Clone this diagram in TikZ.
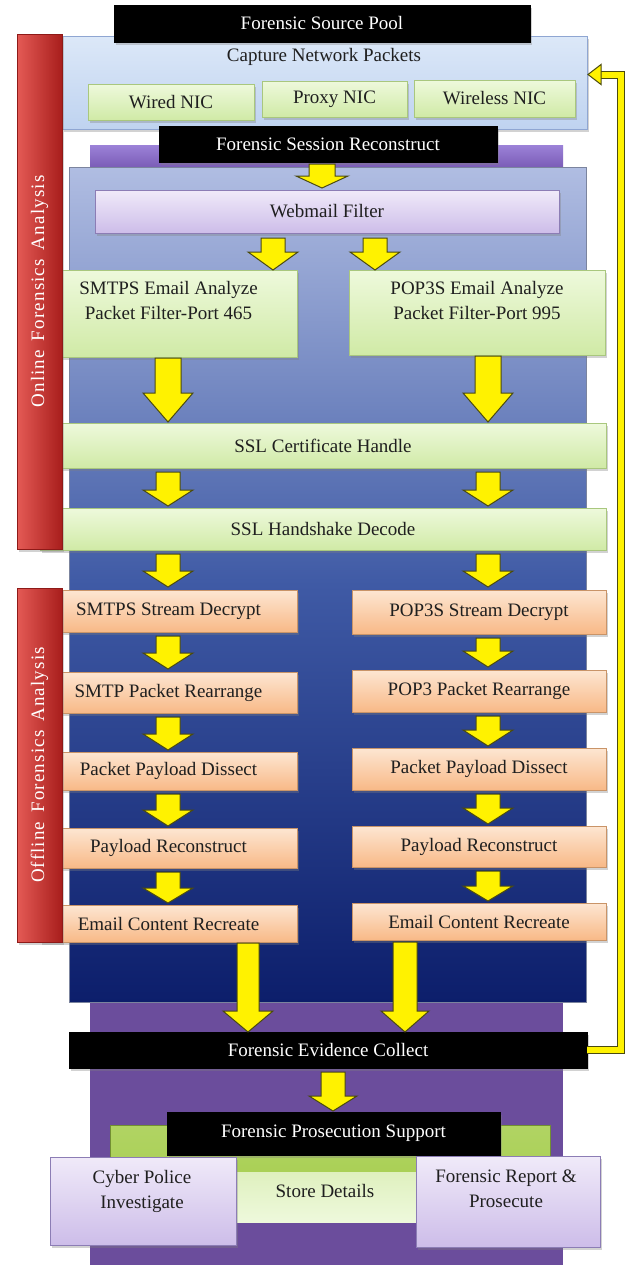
\documentclass[tikz,border=0pt]{standalone}
\usepackage{fontspec}
\setmainfont{Liberation Serif}
\newfontfamily\spacedserif[LetterSpace=6]{Liberation Serif}
\usetikzlibrary{calc,shadows}
\newcommand{\fs}{\fontsize{19}{25}\selectfont}
\definecolor{capT}{HTML}{DCE8F8}
\definecolor{capB}{HTML}{BFD3F0}
\definecolor{capD}{HTML}{8FA6D2}
\definecolor{grnT}{HTML}{EEF9DC}
\definecolor{grnB}{HTML}{D0EAA6}
\definecolor{grnD}{HTML}{A9C77E}
\definecolor{oraT}{HTML}{FDE6D2}
\definecolor{oraB}{HTML}{F8B987}
\definecolor{oraD}{HTML}{C99468}
\definecolor{lavT}{HTML}{F0EAF9}
\definecolor{lavB}{HTML}{CDBDE9}
\definecolor{lavD}{HTML}{8C7DB5}
\definecolor{redL}{HTML}{E45A55}
\definecolor{redR}{HTML}{A81E1C}
\definecolor{redD}{HTML}{8E1A18}
\definecolor{blueT}{HTML}{B0BDE2}
\definecolor{blueM}{HTML}{3F5AA5}
\definecolor{blueB}{HTML}{0C1E6B}
\definecolor{purp}{HTML}{6B4D9C}
\definecolor{purpT}{HTML}{9C82D8}
\definecolor{purpB}{HTML}{7657B2}
\definecolor{bandG}{HTML}{A3CC48}
\definecolor{arrD}{HTML}{4A4A10}
\pgfdeclareverticalshading{blackbevel}{100bp}{color(0bp)=(black); color(80bp)=(black); color(92bp)=(black!75); color(100bp)=(black!45)}
\newcommand{\blockarrow}[5]{%
  \draw[yarrow] let \p1=#1, \p2=#2 in
    (\x1-#3,\y1) -- (\x1+#3,\y1) -- (\x1+#3,\y2+#5) -- (\x1+#4,\y2+#5) --
    (\x1,\y2) -- (\x1-#4,\y2+#5) -- (\x1-#3,\y2+#5) -- cycle;}
\begin{document}
\begin{tikzpicture}[x=1pt,y=-1pt,
  base/.style={rectangle, inner sep=0pt, outer sep=0pt, font=\fs, text=black!88, align=center},
  shad/.style={drop shadow={opacity=0.35, shadow xshift=2pt, shadow yshift=-2.5pt}},
  blk/.style={base, shading=blackbevel, draw=black, text=white, shad},
  capbox/.style={base, top color=capT, bottom color=capB, draw=capD, shad},
  grn/.style={base, top color=grnT, bottom color=grnB, draw=grnD, shad},
  ora/.style={base, top color=oraT, bottom color=oraB, draw=oraD, shad},
  lav/.style={base, top color=lavT, bottom color=lavB, draw=lavD, shad},
  redbar/.style={base, left color=redL, right color=redR, draw=redD, shad},
  redtext/.style={font=\spacedserif\fs, text=white, rotate=90, inner sep=0pt},
  yarrow/.style={fill=yellow, draw=arrD, line width=1pt, line join=miter},
  txt/.style={font=\fs, text=black!88, align=center, inner sep=0pt}
]
\useasboundingbox (0,0) rectangle (628,1266);
\fill[white] (0,0) rectangle (628,1266);

% x-positions of the block arrows
\coordinate (xa) at (322,0);
\coordinate (xb) at (273,0);
\coordinate (xc) at (375,0);
\coordinate (xL) at (168,0);
\coordinate (xR) at (488,0);
\coordinate (xl2) at (248,0);
\coordinate (xr2) at (405,0);
\coordinate (xe) at (333,0);

% background panels
\node[base, fill=purp, minimum width=473pt, minimum height=1120pt] (purpleBg) at (326.5,705) {};
\fill[top color=purpT, bottom color=purpB] (90,145) rectangle (563,170);
\node[base, top color=blueT, bottom color=blueB, middle color=blueM, draw=blueT!70!black, minimum width=517pt, minimum height=835pt] (blueBg) at (327.5,584.5) {};

% source pool
\node[capbox, minimum width=525pt, minimum height=93pt] (cap) at (324.5,82.5) {};
\node[txt] (captxt) at (324,57) {Capture Network Packets};
\node[grn, minimum width=166pt, minimum height=36pt] (wired) at (171,102) {Wired NIC};
\node[grn, minimum width=145pt, minimum height=36pt] (proxy) at (334.5,99) {Proxy NIC};
\node[grn, minimum width=161pt, minimum height=37pt] (wireless) at (494.5,98.5) {Wireless NIC};
\node[blk, minimum width=416pt, minimum height=37pt] (srcpool) at (322,23.5) {Forensic Source Pool};
\node[blk, minimum width=338pt, minimum height=36pt] (sess) at (328,144) {Forensic Session Reconstruct};

% online analysis
\node[lav, minimum width=464pt, minimum height=43pt] (webmail) at (327,211.5) {Webmail Filter};
\node[grn, minimum width=257pt, minimum height=87pt] (smtpsEmail) at (168.5,313.5) {};
\node[txt, anchor=north] (smtpsTxt) at (168.5,281) {SMTPS Email Analyze\\Packet Filter-Port 465};
\node[grn, minimum width=256pt, minimum height=85pt] (pop3sEmail) at (477,312.5) {};
\node[txt, anchor=north] (pop3sTxt) at (477,281) {POP3S Email Analyze\\Packet Filter-Port 995};
\node[grn, minimum width=566pt, minimum height=45pt] (sslCert) at (323,445.5) {SSL Certificate Handle};
\node[grn, minimum width=566pt, minimum height=42pt] (sslHand) at (323,529) {SSL Handshake Decode};

% offline analysis
\node[ora, minimum width=257pt, minimum height=42pt] (L1) at (168.5,611) {SMTPS Stream Decrypt};
\node[ora, minimum width=257pt, minimum height=41pt] (L2) at (168.5,692.5) {SMTP Packet Rearrange};
\node[ora, minimum width=257pt, minimum height=38pt] (L3) at (168.5,771) {Packet Payload Dissect};
\node[ora, minimum width=257pt, minimum height=40pt] (L4) at (168.5,848) {Payload Reconstruct};
\node[ora, minimum width=257pt, minimum height=37pt] (L5) at (168.5,923.5) {Email Content Recreate};
\node[ora, minimum width=254pt, minimum height=44pt] (R1) at (479,612) {POP3S Stream Decrypt};
\node[ora, minimum width=254pt, minimum height=42pt] (R2) at (479,691) {POP3 Packet Rearrange};
\node[ora, minimum width=254pt, minimum height=42pt] (R3) at (479,769) {Packet Payload Dissect};
\node[ora, minimum width=254pt, minimum height=41pt] (R4) at (479,846.5) {Payload Reconstruct};
\node[ora, minimum width=254pt, minimum height=37pt] (R5) at (479,921.5) {Email Content Recreate};

% red side bars
\node[redbar, minimum width=45pt, minimum height=515pt] (red1) at (39.5,291.5) {};
\node[redtext] (red1txt) at (red1.center) {Online\, Forensics\, Analysis};
\node[redbar, minimum width=45pt, minimum height=354pt] (red2) at (39.5,765) {};
\node[redtext] (red2txt) at (red2.center) {Offline\, Forensics\, Analysis};

% block arrows
\blockarrow{($(sess.south -| xa)+(0,2)$)}{($(webmail.north -| xa)+(0,-2)$)}{13pt}{26pt}{12pt}
\blockarrow{($(webmail.south -| xb)+(0,5)$)}{(smtpsEmail.north -| xb)}{12pt}{25pt}{18pt}
\blockarrow{($(webmail.south -| xc)+(0,5)$)}{(pop3sEmail.north -| xc)}{12pt}{25pt}{18pt}
\blockarrow{($(smtpsEmail.south -| xL)+(0,1)$)}{($(sslCert.north -| xL)+(0,-1)$)}{13pt}{25pt}{29pt}
\blockarrow{($(pop3sEmail.south -| xR)+(0,1)$)}{($(sslCert.north -| xR)+(0,-1)$)}{13pt}{25pt}{29pt}
\blockarrow{($(sslCert.south -| xL)+(0,4)$)}{($(sslHand.north -| xL)+(0,-2)$)}{12pt}{25pt}{16pt}
\blockarrow{($(sslCert.south -| xR)+(0,4)$)}{($(sslHand.north -| xR)+(0,-2)$)}{12pt}{25pt}{16pt}
\blockarrow{($(sslHand.south -| xL)+(0,4)$)}{($(L1.north -| xL)+(0,-3)$)}{12pt}{25pt}{16pt}
\blockarrow{($(sslHand.south -| xR)+(0,4)$)}{($(R1.north -| xR)+(0,-3)$)}{12pt}{25pt}{16pt}
\blockarrow{($(L1.south -| xL)+(0,4)$)}{($(L2.north -| xL)+(0,-3)$)}{12pt}{25pt}{16pt}
\blockarrow{($(R1.south -| xR)+(0,4)$)}{($(R2.north -| xR)+(0,-3)$)}{12pt}{25pt}{16pt}
\blockarrow{($(L2.south -| xL)+(0,4)$)}{($(L3.north -| xL)+(0,-2)$)}{12pt}{25pt}{16pt}
\blockarrow{($(R2.south -| xR)+(0,4)$)}{($(R3.north -| xR)+(0,-2)$)}{12pt}{25pt}{16pt}
\blockarrow{($(L3.south -| xL)+(0,4)$)}{($(L4.north -| xL)+(0,-2)$)}{12pt}{25pt}{16pt}
\blockarrow{($(R3.south -| xR)+(0,4)$)}{($(R4.north -| xR)+(0,-2)$)}{12pt}{25pt}{16pt}
\blockarrow{($(L4.south -| xL)+(0,4)$)}{($(L5.north -| xL)+(0,-2)$)}{12pt}{25pt}{15pt}
\blockarrow{($(R4.south -| xR)+(0,4)$)}{($(R5.north -| xR)+(0,-2)$)}{12pt}{25pt}{15pt}

% evidence collection
\node[blk, minimum width=518pt, minimum height=36pt] (evid) at (328,1050) {Forensic Evidence Collect};
\blockarrow{($(L5.south -| xl2)+(0,1)$)}{(evid.north -| xl2)}{11pt}{25pt}{21pt}
\blockarrow{($(R5.south -| xr2)+(0,2)$)}{(evid.north -| xr2)}{12pt}{24pt}{21pt}

% prosecution support
\node[base, top color=bandG!85!white, bottom color=bandG, draw=bandG!70!black, minimum width=440pt, minimum height=97pt] (band) at (330,1173.5) {};
\node[base, top color=grnT!80!bandG, bottom color=grnT, minimum width=260pt, minimum height=50pt] (store) at (325,1197) {};
\node[txt] (storetxt) at (325,1191) {Store Details};
\node[blk, minimum width=333pt, minimum height=43pt] (pros) at (333.5,1133.5) {Forensic Prosecution Support};
\node[lav, minimum width=186pt, minimum height=88pt] (cyber) at (143,1201) {};
\node[txt, anchor=north] (cybertxt) at (142,1170) {Cyber Police\\Investigate};
\node[lav, minimum width=184pt, minimum height=91pt] (report) at (508,1201.5) {};
\node[txt, anchor=north] (reporttxt) at (506,1170) {Forensic Report \&\\Prosecute};
\blockarrow{($(evid.south -| xe)+(0,4)$)}{($(pros.north -| xe)+(0,-1)$)}{12pt}{24pt}{15pt}

% feedback loop
\draw[draw=arrD, line width=1pt, double=yellow, double distance=6pt, line join=miter]
  (evid.east) -- ++(34,0) |- ($(cap.east)+(14,-8)$);
\draw[yarrow] ($(cap.east)+(1,-8)$) -- ++(13,-10) -- ++(0,20) -- cycle;
\end{tikzpicture}
\end{document}
